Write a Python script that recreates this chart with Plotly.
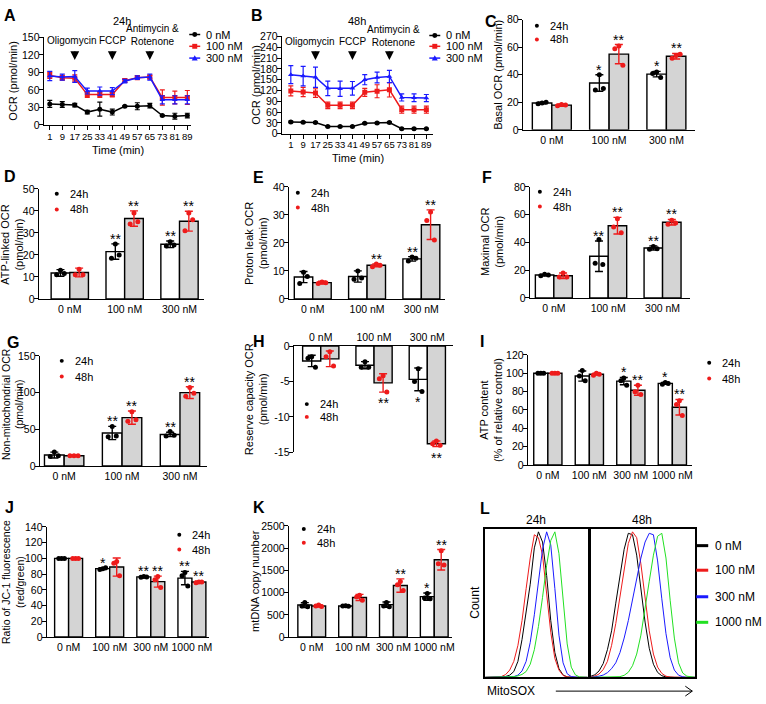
import plotly.graph_objects as go

W, H = 766, 704
FONT = "Arial, 'Liberation Sans', sans-serif"
RED = "#ee1b1b"
BLUE = "#1a1aff"
GREEN = "#22e022"
GREY = "#d4d4d4"

# ---------------- A / B : OCR time course ----------------
times = [1, 9, 17, 25, 33, 41, 49, 57, 65, 73, 81, 89]

a_0nm = [36, 35, 34, 22, 27, 22, 32, 32, 33, 16, 15, 16]
a_0nm_sd = [6, 5, 3, 3, 12, 5, 1, 6, 4, 1, 5, 4]
a_100nm = [85, 81, 80, 52, 52, 52, 76, 81, 82, 47, 47, 47]
a_100nm_sd = [5, 4, 6, 5, 5, 4, 3, 3, 3, 13, 11, 12]
a_300nm = [84, 82, 83, 58, 58, 58, 75, 81, 82, 43, 43, 43]
a_300nm_sd = [8, 5, 10, 5, 7, 6, 3, 3, 5, 7, 7, 7]

b_0nm = [33, 32, 31, 20, 20, 20, 29, 30, 31, 14, 14, 14]
b_0nm_sd = [2, 2, 2, 1, 1, 1, 2, 2, 2, 1, 1, 1]
b_100nm = [119, 116, 113, 79, 79, 79, 115, 118, 122, 67, 67, 67]
b_100nm_sd = [14, 13, 12, 9, 9, 9, 11, 18, 20, 10, 10, 10]
b_300nm = [164, 160, 157, 126, 125, 126, 150, 156, 159, 101, 100, 99]
b_300nm_sd = [25, 27, 28, 20, 21, 19, 14, 15, 17, 10, 11, 10]

# ---------------- C..K : bar panels ----------------
doses3 = ["0 nM", "100 nM", "300 nM"]
doses4 = ["0 nM", "100 nM", "300 nM", "1000 nM"]

c_m24 = [19.5, 34.0, 40.5]; c_sd24 = [0.6, 6.0, 2.0]
c_p24 = [[19.5, 19.0, 20.0], [40.0, 29.0, 30.0], [42.0, 41.0, 38.0]]
c_m48 = [18.0, 55.0, 53.5]; c_sd48 = [0.8, 7.0, 2.0]
c_p48 = [[18.5, 17.5, 18.0], [61.0, 59.0, 47.0], [54.0, 52.0, 55.0]]
c_st24 = ["", "*", "*"]; c_st48 = ["", "**", "**"]

d_m24 = [11.8, 21.5, 24.8]; d_sd24 = [1.5, 3.5, 1.5]
d_p24 = [[13.0, 11.0, 11.5], [25.0, 18.5, 20.0], [26.0, 24.0, 24.5]]
d_m48 = [12.0, 36.5, 35.3]; d_sd48 = [2.0, 3.5, 4.5]
d_p48 = [[13.5, 11.0, 11.0], [39.0, 34.0, 35.0], [39.0, 31.0, 36.0]]
d_st24 = ["", "**", "**"]; d_st48 = ["", "**", "**"]

e_m24 = [7.8, 8.0, 14.3]; e_sd24 = [2.0, 2.0, 0.8]
e_p24 = [[9.5, 5.5, 8.0], [10.0, 7.0, 7.5], [15.0, 13.5, 14.5]]
e_m48 = [5.8, 12.0, 26.5]; e_sd48 = [0.5, 0.5, 5.3]
e_p48 = [[6.0, 5.5, 5.8], [12.5, 11.5, 12.0], [31.0, 28.0, 21.0]]
e_st24 = ["", "", "**"]; e_st48 = ["", "**", "**"]

f_m24 = [16.5, 30.0, 36.0]; f_sd24 = [0.5, 11.0, 1.5]
f_p24 = [[17.0, 16.0, 16.5], [42.0, 25.0, 24.0], [37.0, 35.0, 35.5]]
f_m48 = [16.0, 52.0, 54.5]; f_sd48 = [2.0, 6.0, 2.0]
f_p48 = [[18.0, 15.0, 15.0], [57.0, 51.0, 47.0], [56.0, 53.0, 54.0]]
f_st24 = ["", "**", "**"]; f_st48 = ["", "**", "**"]

g_m24 = [15.0, 45.0, 43.0]; g_sd24 = [4.0, 9.0, 3.0]
g_p24 = [[19.0, 13.0, 14.0], [54.0, 40.0, 41.0], [47.0, 41.0, 42.0]]
g_m48 = [14.0, 66.0, 100.0]; g_sd48 = [0.5, 9.0, 8.0]
g_p48 = [[14.0, 14.0, 14.0], [74.0, 61.0, 63.0], [107.0, 95.0, 99.0]]
g_st24 = ["", "**", "**"]; g_st48 = ["", "**", "**"]

h_m24 = [-2.1, -2.7, -4.7]; h_sd24 = [0.8, 0.5, 1.6]
h_p24 = [[-1.5, -1.7, -3.0], [-2.2, -3.0, -3.0], [-3.2, -5.0, -6.4]]
h_m48 = [-1.8, -5.2, -13.8]; h_sd48 = [1.1, 1.3, 0.4]
h_p48 = [[-0.8, -1.5, -2.8], [-4.2, -4.6, -6.5], [-13.4, -13.8, -14.0]]
h_st24 = ["", "", "*"]; h_st48 = ["", "**", "**"]

i_m24 = [100, 97, 91.5, 89]; i_sd24 = [0.3, 5.5, 4.0, 1.0]
i_p24 = [[100, 100, 100], [103, 97, 92], [95, 92, 87], [90, 88, 89]]
i_m48 = [100, 99, 81.5, 63]; i_sd48 = [0.3, 1.0, 5.5, 8.5]
i_p48 = [[100, 100, 100], [100, 98, 99], [87, 80, 77], [70, 66, 54]]
i_st24 = ["", "", "*", "*"]; i_st48 = ["", "", "**", "**"]

j_m24 = [100, 87, 76.5, 75]; j_sd24 = [0.3, 1.0, 0.8, 8.5]
j_p24 = [[100, 100, 100], [87, 86, 88], [77, 76, 76.5], [82, 78, 65]]
j_m48 = [100, 89, 70.5, 70]; j_sd48 = [0.3, 11.5, 7.0, 1.0]
j_p48 = [[100, 100, 100], [96, 94, 78], [77, 73, 63], [70, 69, 70]]
j_st24 = ["", "*", "**", "**"]; j_st48 = ["", "", "**", "**"]

k_m24 = [720, 700, 730, 910]; k_sd24 = [55, 10, 60, 80]
k_p24 = [[780, 700, 680], [705, 700, 695], [780, 700, 680], [980, 880, 860]]
k_m48 = [700, 890, 1160, 1740]; k_sd48 = [25, 70, 150, 230]
k_p48 = [[720, 700, 690], [940, 900, 830], [1250, 1180, 1050], [1940, 1650, 1620]]
k_st24 = ["", "", "", "*"]; k_st48 = ["", "", "**", "**"]

# ---------------- L : MitoSOX histograms (% of max count) ----------------
l_bins = [0, 4, 8, 12, 16, 20, 24, 28, 32, 36, 40, 44, 48, 52, 56, 60, 64, 68, 72, 76, 80, 84, 88, 92, 96, 100]
l24_0nm = [0, 0, 0, 0.2, 0.3, 0.6, 1.5, 4, 11, 26, 45, 64, 89, 100, 93, 70, 39, 17, 6, 1.6, 0.3, 0, 0, 0, 0, 0]
l24_100nm = [0, 0, 0.2, 0.3, 0.6, 1.9, 5, 11, 22, 39, 61, 82, 98, 96, 84, 57, 31, 13, 5, 1.3, 0.3, 0, 0, 0, 0, 0]
l24_300nm = [0, 0, 0, 0, 0.2, 0.3, 0.4, 0.5, 1.5, 4.4, 11, 24, 43, 67, 88, 100, 91, 61, 29, 10, 2.5, 0.5, 0, 0, 0, 0]
l24_1000nm = [0, 0, 0, 0, 0.2, 0.3, 0.4, 0.5, 1, 2, 4, 9, 19, 35, 55, 77, 94, 100, 85, 52, 23, 7, 1.7, 0.3, 0, 0]
l48_0nm = [0.7, 1.8, 4.4, 9.5, 19, 32, 51, 71, 88, 99, 98, 84, 61, 38, 20, 9, 3.4, 1.1, 0.3, 0, 0, 0, 0, 0, 0, 0]
l48_100nm = [0.3, 0.9, 2.3, 5.4, 11, 22, 37, 56, 75, 92, 100, 96, 78, 55, 32, 16, 7, 2.7, 0.8, 0.2, 0, 0, 0, 0, 0, 0]
l48_300nm = [0, 0.3, 0.8, 1.6, 3.2, 6, 10, 17, 27, 39, 53, 68, 82, 93, 99, 98, 80, 54, 30, 13.5, 5, 1.5, 0.4, 0, 0, 0]
l48_1000nm = [0, 0, 0, 0, 0, 0.05, 0.2, 0.5, 1.4, 3.5, 8, 16, 29, 46, 66, 84, 97, 99, 82, 53, 27, 10, 3, 0.8, 0.2, 0]

fig = go.Figure()
ANN, SHAPES = [], []

BASE = dict(showline=True, linecolor="black", linewidth=1.4, showgrid=False, zeroline=False,
            tickcolor="black", tickwidth=1.4, ticklen=4, fixedrange=True,
            tickfont=dict(family=FONT, size=10.5, color="black"))
YTICK = dict(ticklabelstandoff=-3)


def setup_axes(n, box, xr, yr, xextra, yextra):
    l, t, r, b = box
    s = "" if n == 1 else str(n)
    fig.update_layout({
        f"xaxis{s}": dict(BASE, domain=[l / W, r / W], range=xr, anchor=f"y{s}", **xextra),
        f"yaxis{s}": dict(BASE, domain=[1 - b / H, 1 - t / H], range=yr, anchor=f"x{s}", **yextra),
    })
    return f"x{s}", f"y{s}"


def text(x, y, s, size=11, angle=0, anchor="center", **kw):
    ANN.append(dict(x=x / W, y=1 - y / H, xref="paper", yref="paper", text=s, showarrow=False,
                    textangle=angle, xanchor=anchor, yanchor="middle",
                    font=dict(family=FONT, size=size, color="black"), **kw))


def key_line(x0, x1, y, col, width=1.5):
    SHAPES.append(dict(type="line", xref="paper", yref="paper", x0=x0 / W, x1=x1 / W,
                       y0=1 - y / H, y1=1 - y / H, line=dict(color=col, width=width)))


def key_marker(cx, cy, col, sym="circle", r=2.5):
    if sym == "triangle-up":
        path = (f"M {cx / W},{1 - (cy - r - 0.5) / H} L {(cx + r + 0.5) / W},{1 - (cy + r) / H} "
                f"L {(cx - r - 0.5) / W},{1 - (cy + r) / H} Z")
        SHAPES.append(dict(type="path", xref="paper", yref="paper", path=path, fillcolor=col, line=dict(width=0)))
    else:
        SHAPES.append(dict(type="circle" if sym == "circle" else "rect", xref="paper", yref="paper",
                           x0=(cx - r) / W, x1=(cx + r) / W, y0=1 - (cy + r) / H, y1=1 - (cy - r) / H,
                           fillcolor=col, line=dict(width=0)))


def dot_legend(x, y0, y1):
    key_marker(x, y0, "black", r=2)
    key_marker(x, y1, RED, r=2)
    text(x + 11, y0, "24h", anchor="left")
    text(x + 11, y1, "48h", anchor="left")


# ---------- A and B ----------
def time_panel(n, box, xr, yr, series, arrow_y, label_y, shifts):
    xref, yref = setup_axes(n, box, xr, yr,
                            dict(ticks="outside", tickmode="array", tickvals=times, tickangle=0,
                                 ticklabelstandoff=-2, tickfont=dict(family=FONT, size=9.5, color="black")),
                            dict(YTICK, ticks="outside", tick0=0, dtick=30))
    for ys, sds, col, sym in series:
        fig.add_trace(go.Scatter(x=times, y=ys, mode="lines+markers", xaxis=xref, yaxis=yref,
                                 error_y=dict(type="data", array=sds, color=col, thickness=1.2, width=2.5),
                                 line=dict(color=col, width=1.5), marker=dict(color=col, symbol=sym, size=5),
                                 showlegend=False))
    for t, lab, dx in zip((17, 41, 65), ("Oligomycin", "FCCP", "Antimycin &<br>Rotenone"), shifts):
        ANN.append(dict(x=t, xref=xref, y=1 - arrow_y / H, yref="paper", text="", showarrow=True,
                        ax=0, ay=-10, arrowhead=2, arrowsize=1.1, arrowwidth=1.6, arrowcolor="black"))
        ly = label_y - 5 if "<br>" in lab else label_y
        ANN.append(dict(x=t, xref=xref, y=1 - ly / H, yref="paper", text=lab, showarrow=False, xshift=dx,
                        yanchor="middle", font=dict(family=FONT, size=10, color="black")))


time_panel(1, (44, 32, 192, 121), [-2.8, 91.5], [0, 150],
           [(a_0nm, a_0nm_sd, "black", "circle"), (a_100nm, a_100nm_sd, RED, "square"),
            (a_300nm, a_300nm_sd, BLUE, "triangle-up")], 55, 35, (-3, 1, 3))
time_panel(2, (283, 31, 435, 130), [-4.8, 93.5], [0, 270],
           [(b_0nm, b_0nm_sd, "black", "circle"), (b_100nm, b_100nm_sd, RED, "square"),
            (b_300nm, b_300nm_sd, BLUE, "triangle-up")], 55, 36, (-6, 1, 4))

for kx, ys in ((190, (29, 41, 53)), (431, (30, 41, 53))):
    for yy, col, sym, lab in zip(ys, ("black", RED, BLUE), ("circle", "square", "triangle-up"),
                                 ("0 nM", "100 nM", "300 nM")):
        key_line(kx, kx + 11, yy, col)
        key_marker(kx + 5.5, yy, col, sym, r=2.5)
        text(kx + 15, yy, lab, anchor="left")

text(122, 15, "24h")
text(358, 15, "48h")
text(118, 146, "Time (min)")
text(359, 155, "Time (min)")
text(13, 76, "OCR (pmol/min)", angle=-90)
text(257, 80, "OCR (pmol/min)", angle=-90)

# ---------- bar panels ----------
BW = 0.34
JIT = [0.0, -0.07, 0.07]


def bar_panel(n, box, xr, yr, dt, cats, m24, sd24, p24, m48, sd48, p48, st24, st48, top=False, yextra=None):
    yax = dict(YTICK, ticks="outside", tick0=0, dtick=dt, tickformat="d")
    if yextra:
        yax.update(yextra)
    xref, yref = setup_axes(n, box, xr, yr,
                            dict(ticks="", tickmode="array", tickvals=list(range(len(cats))), ticktext=cats,
                                 tickangle=0, side="top" if top else "bottom"),
                            yax)
    for off, means, sds, pts, fill, col, stars in ((-BW / 2, m24, sd24, p24, "white", "black", st24),
                                                   (BW / 2, m48, sd48, p48, GREY, RED, st48)):
        xs = [i + off for i in range(len(cats))]
        fig.add_trace(go.Bar(x=xs, y=means, width=BW, xaxis=xref, yaxis=yref, showlegend=False,
                             marker=dict(color=fill, line=dict(color="black", width=1.4)),
                             error_y=dict(type="data", array=sds, color=col, thickness=1.4, width=4)))
        fig.add_trace(go.Scatter(x=[x + j for x, grp in zip(xs, pts) for j in JIT[:len(grp)]],
                                 y=[v for grp in pts for v in grp], mode="markers",
                                 marker=dict(color=col, size=5), xaxis=xref, yaxis=yref, showlegend=False))
        for x, m, s, star in zip(xs, means, sds, stars):
            if star:
                ANN.append(dict(x=x, y=m - s if top else m + s, xref=xref, yref=yref, text=star,
                                showarrow=False, yanchor="top" if top else "bottom",
                                yshift=-1 if top else -5, font=dict(family=FONT, size=14, color="black")))


bar_panel(3, (525, 14, 698, 126), [-0.504, 2.504], [0, 80], 20, doses3,
          c_m24, c_sd24, c_p24, c_m48, c_sd48, c_p48, c_st24, c_st48)
bar_panel(4, (39, 186, 205, 298), [-0.564, 2.45], [0, 50], 10, doses3,
          d_m24, d_sd24, d_p24, d_m48, d_sd48, d_p48, d_st24, d_st48)
bar_panel(5, (290, 184, 447, 298), [-0.44, 2.44], [0, 40], 10, doses3,
          e_m24, e_sd24, e_p24, e_m48, e_sd48, e_p48, e_st24, e_st48)
bar_panel(6, (532, 184, 693, 297), [-0.44, 2.51], [0, 80], 20, doses3,
          f_m24, f_sd24, f_p24, f_m48, f_sd48, f_p48, f_st24, f_st48)
bar_panel(7, (40, 356, 208, 468), [-0.42, 2.47], [0, 150], 50, doses3,
          g_m24, g_sd24, g_p24, g_m48, g_sd48, g_p48, g_st24, g_st48)
bar_panel(8, (295, 346, 455, 454), [-0.505, 2.486], [-15, 0], 5, doses3,
          h_m24, h_sd24, h_p24, h_m48, h_sd48, h_p48, h_st24, h_st48, top=True,
          yextra=dict(tickmode="array", tickvals=[-15, -10, -5, 0], ticktext=["-15", "-10", "-5", "0"]))
bar_panel(9, (530, 355, 695, 467), [-0.48, 3.48], [0, 120], 20, doses4,
          i_m24, i_sd24, i_p24, i_m48, i_sd48, i_p48, i_st24, i_st48)
bar_panel(10, (47, 530, 210, 642), [-0.53, 3.42], [0, 140], 20, doses4,
          j_m24, j_sd24, j_p24, j_m48, j_sd48, j_p48, j_st24, j_st48)
bar_panel(11, (290, 529, 454, 642), [-0.56, 3.44], [0, 2500], 500, doses4,
          k_m24, k_sd24, k_p24, k_m48, k_sd48, k_p48, k_st24, k_st48)

dot_legend(539, 20, 34)
dot_legend(57, 191, 207)
dot_legend(299, 190, 205)
dot_legend(542, 189, 204)
dot_legend(62, 361, 377)
dot_legend(308, 405, 418)
dot_legend(712, 363, 379)
dot_legend(180, 538, 553)
dot_legend(305, 532, 546)

text(500, 70, "Basal OCR (pmol/min)", angle=-90)
text(12, 242, "ATP-linked OCR<br>(pmol/min)", angle=-90)
text(257, 241, "Proton leak OCR<br>(pmol/min)", angle=-90)
text(494, 240, "Maximal OCR<br>(pmol/min)", angle=-90)
text(13, 405, "Non-mitochondrial OCR<br>(pmol/min)", size=10.5, angle=-90)
text(257, 400, "Reserve capacity OCR<br>(pmol/min)", angle=-90)
text(493, 411, "ATP content<br>(% of relative control)", angle=-90)
text(13, 586, "Ratio of JC-1 fluorescence<br>(red/green)", size=10.5, angle=-90)
text(256, 585, "mtDNA copy number", angle=-90)

# ---------- L : flow histograms ----------
BOX = dict(mirror=True, ticks="", showticklabels=False, linewidth=1.5)
for n, box, curves in ((12, (487, 532, 590, 683), (l24_0nm, l24_100nm, l24_300nm, l24_1000nm)),
                       (13, (593, 532, 698, 683), (l48_0nm, l48_100nm, l48_300nm, l48_1000nm))):
    xref, yref = setup_axes(n, box, [0, 100], [0, 102], BOX, BOX)
    for ys, col in zip(curves, ("black", RED, BLUE, GREEN)):
        fig.add_trace(go.Scatter(x=l_bins, y=ys, mode="lines", line=dict(color=col, width=1),
                                 xaxis=xref, yaxis=yref, showlegend=False))

for yy, col, lab in zip((549, 574, 601, 627), ("black", RED, BLUE, GREEN),
                        ("0 nM", "100 nM", "300 nM", "1000 nM")):
    key_line(699, 711, yy, col, width=3)
    text(716, yy, lab, size=12, anchor="left")

text(538, 523, "24h", size=12)
text(645, 523, "48h", size=12)
text(477, 607, "Count", size=12, angle=-90)
text(487, 697, "MitoSOX", size=12, anchor="left")
key_line(558, 695, 697, "black", width=1)
SHAPES.append(dict(type="path", xref="paper", yref="paper", line=dict(color="black", width=1),
                   path=f"M {688 / W},{1 - 692 / H} L {695 / W},{1 - 697 / H} L {688 / W},{1 - 702 / H}"))

# ---------- panel letters ----------
for lab, x, y in (("A", 2, 10), ("B", 250, 10), ("C", 485, 16), ("D", 2, 173), ("E", 252, 174),
                  ("F", 482, 174), ("G", 5, 342), ("H", 252, 341), ("I", 480, 341), ("J", 3, 510),
                  ("K", 252, 510), ("L", 480, 511)):
    text(x, y, f"<b>{lab}</b>", size=16, anchor="left")

fig.update_layout(width=W, height=H, margin=dict(l=0, r=0, t=0, b=0), paper_bgcolor="white",
                  plot_bgcolor="white", barmode="overlay", showlegend=False,
                  font=dict(family=FONT, size=11, color="black"),
                  annotations=ANN, shapes=SHAPES)
# drop the default 8px body margin so the figure sits at the page origin
fig.write_html("out.html", config={"displayModeBar": False},
               post_script="document.body.style.margin='0';")
